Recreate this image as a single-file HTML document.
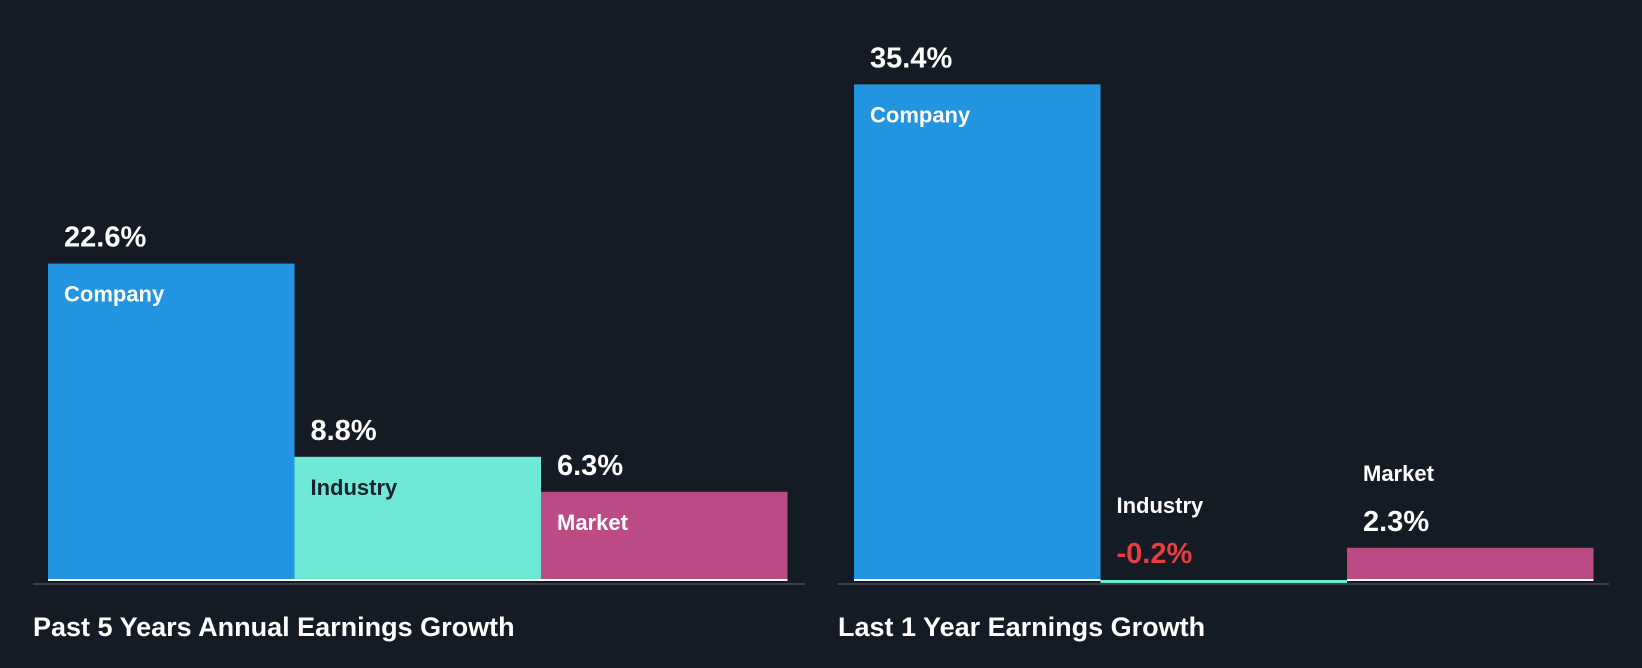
<!DOCTYPE html>
<html><head><meta charset="utf-8"><style>
html,body{margin:0;padding:0;background:#151b24;}
svg{display:block;font-family:"Liberation Sans",Arial,sans-serif;font-weight:bold;}
</style></head><body>
<svg id="c" width="1642" height="668" viewBox="0 0 1642 668">
<rect width="1642" height="668" fill="#151b24"/>
<text x="33" y="636" fill="#fff" font-size="27">Past 5 Years Annual Earnings Growth</text>
<text x="838" y="636" fill="#fff" font-size="27">Last 1 Year Earnings Growth</text>
</svg>
<script>
const categories = ["Company","Industry","Market"];
const past5Values = [22.6, 8.8, 6.3];
const last1Values = [35.4, -0.2, 2.3];
const colors = ["#2394df","#6fe8d6","#bb4a85"];
const labelColors = ["#ffffff","#1b222d","#ffffff"];
const svg = document.getElementById('c');
const NS = 'http://www.w3.org/2000/svg';
const baseY = 580, pxPer = 14.0;
function y(v){ return baseY - v*pxPer; }
function mk(tag, attrs){ const e=document.createElementNS(NS,tag); for(const k in attrs) e.setAttribute(k,attrs[k]); svg.appendChild(e); return e; }
function fmt(v){ return v.toFixed(1)+'%'; }
function panel(values, x0, barW, axisX1, axisX2, key){
  const ax = mk('rect',{x:axisX1,y:baseY+3,width:axisX2-axisX1,height:2,fill:'#3b4049'});
  
  
  values.forEach((v,i)=>{
    const bx = x0 + i*barW;
    const top = Math.min(y(v), baseY), h = Math.abs(y(v)-baseY);
    if (v >= 0) {
      const r = mk('rect',{x:bx,y:top,width:barW,height:h,fill:colors[i]});
      
      
      const w = mk('rect',{x:bx,y:baseY-1,width:barW,height:2,fill:'#ffffff'});
      
      
    } else {
      const r = mk('rect',{x:bx,y:baseY,width:barW,height:Math.max(h,3),fill:colors[i]});
      
      
    }
    const tx = bx + 16;
    let catY, valY, catFill;
    if (h >= 60) { catY = top + 38; valY = top - 17; catFill = labelColors[i]; }
    else { catY = top - 67; valY = top - 17; catFill = '#ffffff'; }
    const c = mk('text',{x:tx,y:catY,fill:catFill,'font-size':22});
    c.textContent = categories[i];
    
    
    const t = mk('text',{x:tx,y:valY,fill:v<0?'#e5403f':'#ffffff','font-size':29});
    t.textContent = fmt(v);
    
    
  });
}
panel(past5Values, 48, 246.5, 33, 805, 'past-5-years');
panel(last1Values, 854, 246.5, 838, 1609, 'last-1-year');
</script>
</body></html>
